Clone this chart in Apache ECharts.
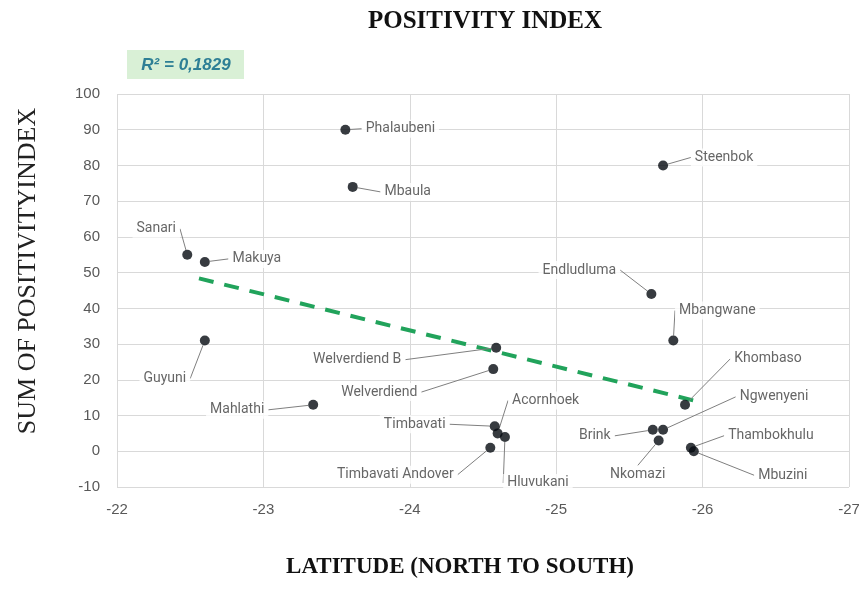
<!DOCTYPE html>
<html><head><meta charset="utf-8">
<script src="https://cdn.jsdelivr.net/npm/echarts@6/dist/echarts.min.js"></script>
<style>html,body{margin:0;padding:0;background:#fff}#c{width:859px;height:589px}</style>
</head><body><div id="c"></div>
<script>
// ---- data ----
const names = ['Phalaubeni','Mbaula','Steenbok','Sanari','Makuya','Endludluma','Mbangwane','Welverdiend B','Welverdiend','Guyuni','Mahlathi','Khombaso','Acornhoek','Timbavati','Hluvukani','Timbavati Andover','Brink','Ngwenyeni','Nkomazi','Thambokhulu','Mbuzini'];
const latitudes = [-23.56,-23.61,-25.73,-22.48,-22.60,-25.65,-25.80,-24.59,-24.57,-22.60,-23.34,-25.88,-24.60,-24.58,-24.65,-24.55,-25.66,-25.73,-25.70,-25.92,-25.94];
const positivity = [90,74,80,55,53,44,31,29,23,31,13,13,5,7,4,1,6,6,3,1,0];
const trendLat = [-22.56,-25.95];
const trendVal = [48.4,14.1];
const xMin = -27, xMax = -22, xStep = 1;
const yMin = -10, yMax = 100, yStep = 10;
const rSquaredText = 'R² = 0,1829';

// ---- label placement (offset of label centre from point, px) ----
const labelOffsets = {
  'Phalaubeni':[55,-1],'Mbaula':[55,5],'Steenbok':[61,-8],'Sanari':[-31,-26],'Makuya':[52,-3],
  'Endludluma':[-72,-24],'Mbangwane':[44,-30],'Welverdiend B':[-139,12],'Welverdiend':[-114,23],
  'Guyuni':[-40,38],'Mahlathi':[-76,5],'Khombaso':[83,-46],'Acornhoek':[48,-33],'Timbavati':[-80,-2],
  'Hluvukani':[33,46],'Timbavati Andover':[-95,27],'Brink':[-58,6],'Ngwenyeni':[111,-33],
  'Nkomazi':[-21,34],'Thambokhulu':[80,-12],'Mbuzini':[89,24]
};

const chart = echarts.init(document.getElementById('c'), null, {renderer:'canvas'});
const pts = names.map((n,i)=>({name:n, value:[latitudes[i], positivity[i]]}));
const trend = trendLat.map((x,i)=>[x, trendVal[i]]);

chart.setOption({
  animation:false,
  backgroundColor:'#fff',
  grid:{left:117,right:10,top:94,bottom:102,containLabel:false,outerBoundsMode:'none'},
  xAxis:{type:'value',min:xMin,max:xMax,interval:xStep,inverse:true,
    axisLine:{show:false},axisTick:{show:false},
    splitLine:{show:true,lineStyle:{color:'#d9d9d9',width:1}},
    axisLabel:{color:'#595959',fontSize:15,fontFamily:'Liberation Sans',margin:15}},
  yAxis:{type:'value',min:yMin,max:yMax,interval:yStep,
    axisLine:{show:false},axisTick:{show:false},
    splitLine:{show:true,lineStyle:{color:'#d9d9d9',width:1}},
    axisLabel:{color:'#595959',fontSize:15,fontFamily:'Liberation Sans',margin:17}},
  graphic:[
    {type:'text',x:485,y:22,style:{text:'POSITIVITY INDEX',font:'bold 25px "Liberation Serif"',fill:'#111',textAlign:'center',textVerticalAlign:'middle'}},
    {type:'text',x:460,y:567,style:{text:'LATITUDE (NORTH TO SOUTH)',font:'bold 23px "Liberation Serif"',fill:'#111',textAlign:'center',textVerticalAlign:'middle'}},
    {type:'text',x:28,y:271,rotation:Math.PI/2,style:{text:'SUM OF POSITIVITYINDEX',font:'26px "Liberation Serif"',fill:'#222',textAlign:'center',textVerticalAlign:'middle'}},
    {type:'rect',shape:{x:127,y:50,width:117,height:29},style:{fill:'#d9f0d6'}},
    {type:'text',x:186,y:65,style:{text:rSquaredText,font:'italic bold 17px "Liberation Sans"',fill:'#2e7f95',textAlign:'center',textVerticalAlign:'middle'}}
  ],
  series:[
    {type:'line',data:trend,symbol:'none',z:2,
      lineStyle:{color:'#21a35b',width:4,type:[15,11]}},
    {type:'scatter',data:pts,symbolSize:10,z:3,
      itemStyle:{color:'#050a10'},
      label:{show:true,formatter:'{b}',color:'#404040',fontSize:14,fontFamily:'Roboto',
        backgroundColor:'#fff',padding:[2,4]},
      labelLine:{show:true,lineStyle:{color:'#7f7f7f',width:1}},
      labelLayout:function(p){
        const o = labelOffsets[names[p.dataIndex]] || [0,0];
        const r = p.rect;
        return {x:r.x+r.width/2+o[0], y:r.y+r.height/2+o[1], align:'center', verticalAlign:'middle'};
      }
    }
  ]
});
</script></body></html>
